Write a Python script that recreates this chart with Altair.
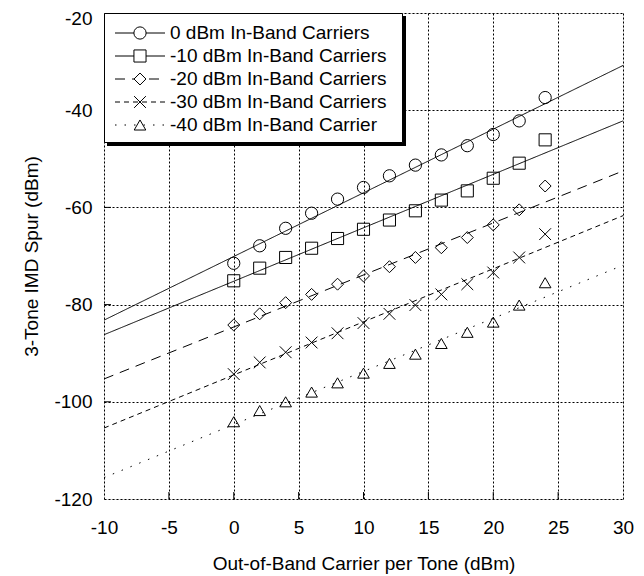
import altair as alt
import pandas as pd

# ---------------- data ----------------
series_names = [
    "0 dBm In-Band Carriers",
    "-10 dBm In-Band Carriers",
    "-20 dBm In-Band Carriers",
    "-30 dBm In-Band Carriers",
    "-40 dBm In-Band Carrier",
]
legend_labels = [
    "\u00a0\u00a0\u00a00 dBm In-Band Carriers",
    "-10 dBm In-Band Carriers",
    "-20 dBm In-Band Carriers",
    "-30 dBm In-Band Carriers",
    "-40 dBm In-Band Carrier",
]

oob_power = [0, 2, 4, 6, 8, 10, 12, 14, 16, 18, 20, 22, 24]
imd_0 = [-71.5, -67.9, -64.3, -61.2, -58.3, -55.9, -53.5, -51.3, -49.2, -47.3, -45.0, -42.2, -37.4]
imd_10 = [-75.1, -72.5, -70.3, -68.4, -66.4, -64.5, -62.6, -60.7, -58.5, -56.6, -54.0, -50.9, -46.1]
imd_20 = [-84.2, -81.9, -79.6, -77.9, -75.8, -74.1, -72.2, -70.3, -68.3, -66.2, -63.6, -60.5, -55.6]
imd_30 = [-94.3, -91.9, -89.8, -87.8, -85.9, -83.8, -81.9, -80.1, -77.9, -75.8, -73.4, -70.3, -65.5]
imd_40 = [-104.1, -101.8, -100.0, -98.0, -96.1, -94.1, -92.1, -90.2, -88.0, -85.7, -83.6, -80.1, -75.5]

# fitted straight lines, value at each end of the x range
fit_x = [-10, 30]
fit_0 = [-83.2, -30.8]
fit_10 = [-86.2, -42.2]
fit_20 = [-95.3, -52.5]
fit_30 = [-105.4, -61.7]
fit_40 = [-115.6, -71.9]

x_ticks = [-10, -5, 0, 5, 10, 15, 20, 25, 30]
y_ticks = [-120, -100, -80, -60, -40, -20]

# ---------------- styling ----------------
FONT = "Liberation Sans"
FS = 19
W, H = 519, 486

shapes = ["circle", "square", "diamond", "M-1,-1L1,1M-1,1L1,-1", "triangle-up"]
sizes = [150, 135, 110, 95, 135]
dashes = [[1, 0], [1, 0], [10, 7], [5, 4], [1.5, 8]]

all_imd = [imd_0, imd_10, imd_20, imd_30, imd_40]
all_fit = [fit_0, fit_10, fit_20, fit_30, fit_40]

pts = pd.DataFrame(
    [{"series": s, "x": x, "y": v} for s, vals in zip(series_names, all_imd) for x, v in zip(oob_power, vals)]
)
fits = pd.DataFrame(
    [{"series": s, "x": x, "y": v} for s, vals in zip(series_names, all_fit) for x, v in zip(fit_x, vals)]
)
leg = pd.DataFrame({"series": series_names, "label": legend_labels, "row": list(range(len(series_names)))})

shape_enc = alt.Shape("series:N", scale=alt.Scale(domain=series_names, range=shapes), legend=None)
size_enc = alt.Size("series:N", scale=alt.Scale(domain=series_names, range=sizes), legend=None)
dash_enc = alt.StrokeDash("series:N", scale=alt.Scale(domain=series_names, range=dashes), legend=None)

x_axis = alt.Axis(
    title="Out-of-Band Carrier per Tone (dBm)", values=x_ticks, grid=True, gridDash=[2, 2],
    gridColor="black", gridOpacity=1, gridWidth=1, ticks=False, tickSize=0, domain=False,
    labelPadding=19, titlePadding=17, labelFontSize=FS, titleFontSize=FS, labelFont=FONT,
    titleFont=FONT, titleFontWeight="normal", labelColor="black", titleColor="black",
    labelFlush=False, labelOverlap=False, labelExpr="'' + datum.value",
)
y_axis = alt.Axis(
    title="3-Tone IMD Spur (dBm)", values=y_ticks, grid=True, gridDash=[2, 2],
    gridColor="black", gridOpacity=1, gridWidth=1, ticks=False, tickSize=0, domain=False,
    labelPadding=12, titlePadding=12, labelFontSize=FS, titleFontSize=FS, labelFont=FONT,
    titleFont=FONT, titleFontWeight="normal", labelColor="black", titleColor="black",
    labelFlush=False, labelOverlap=False, labelExpr="'' + datum.value",
    labelOffset={"condition": {"test": "datum.value == -20", "value": 5}, "value": 0},
)

X = alt.X("x:Q", scale=alt.Scale(domain=[-10, 30], nice=False, zero=False), axis=x_axis)
Y = alt.Y("y:Q", scale=alt.Scale(domain=[-120, -20], nice=False, zero=False), axis=y_axis)

lines = alt.Chart(fits).mark_line(color="black", strokeWidth=1, clip=True).encode(
    x=X, y=Y, strokeDash=dash_enc, detail="series:N"
)
points = alt.Chart(pts).mark_point(filled=False, color="black", strokeWidth=1, opacity=1).encode(
    x=X, y=Y, shape=shape_enc, size=size_enc
)

xt = pd.DataFrame({"x": x_ticks[1:-1]})
yt = pd.DataFrame({"y": y_ticks[1:-1]})
x_tick_marks = alt.Chart(xt).mark_rule(color="black", strokeWidth=1).encode(
    x=X, y=alt.value(H), y2=alt.value(H - 7)
)
y_tick_marks = alt.Chart(yt).mark_rule(color="black", strokeWidth=1).encode(
    y=Y, x=alt.value(0), x2=alt.value(7)
)

main = alt.layer(lines, points, x_tick_marks, y_tick_marks)

# ---------------- legend box ----------------
box_df = pd.DataFrame({"k": [0]})
shadow = alt.Chart(box_df).mark_rect(color="black").encode(
    x=alt.value(3), x2=alt.value(302), y=alt.value(3), y2=alt.value(133)
)
box = alt.Chart(box_df).mark_rect(fill="white", stroke="black", strokeWidth=1).encode(
    x=alt.value(0.5), x2=alt.value(298.5), y=alt.value(0.5), y2=alt.value(129.5)
)
ROW = alt.Y("row:Q", scale=alt.Scale(domain=[0, 4], range=[20, 112], nice=False, zero=False), axis=None)
leg_lines = alt.Chart(leg).mark_rule(color="black", strokeWidth=1).encode(
    x=alt.value(11), x2=alt.value(61), y=ROW, strokeDash=dash_enc
)
leg_pts = alt.Chart(leg).mark_point(filled=False, color="black", strokeWidth=1, opacity=1, fill="white").encode(
    x=alt.value(36), y=ROW, shape=shape_enc, size=size_enc
)
leg_text = alt.Chart(leg).mark_text(
    align="left", baseline="middle", font=FONT, fontSize=FS, color="black"
).encode(x=alt.value(66), y=ROW, text="label:N")

legend = alt.layer(shadow, box, leg_lines, leg_pts, leg_text)

chart = (
    alt.layer(main, legend)
    .resolve_scale(y="independent")
    .properties(
        width=W, height=H,
        autosize=alt.AutoSizeParams(type="none"),
        padding={"left": 96, "top": 5, "right": 13, "bottom": 77},
    )
    .configure_view(stroke="black", strokeWidth=1)
    .configure(background="white")
)

chart.save("out.html", embed_options={"renderer": "svg", "actions": False})
